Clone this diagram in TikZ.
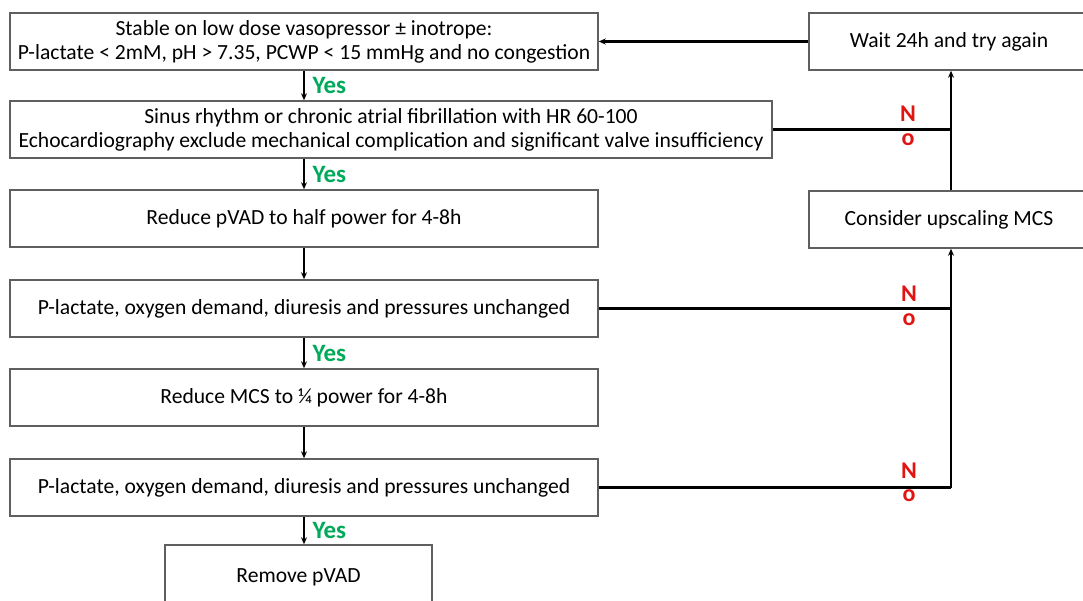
\documentclass[tikz,border=0pt]{standalone}
\usepackage{fontspec}
\setmainfont{Carlito}
\usetikzlibrary{arrows.meta}
\definecolor{boxgray}{RGB}{95,95,95}
\definecolor{yesgreen}{RGB}{0,170,90}
\definecolor{nored}{RGB}{225,20,20}
\tikzset{
  fbox/.style={draw=boxgray, line width=1.5pt, fill=white, align=center, inner sep=0pt,
    minimum height=57pt, font=\fontsize{21.6}{24}\selectfont},
  conn/.style={draw=black, line width=2.4pt},
  arr/.style={conn, -{Stealth[length=7pt,width=6pt]}},
  yes/.style={text=yesgreen, font=\fontsize{25}{27}\selectfont\bfseries},
  nolbl/.style={text=nored, font=\fontsize{24}{26}\selectfont\bfseries},
}
\begin{document}
\begin{tikzpicture}[x=1pt,y=-1pt]
\clip (0,0) rectangle (1083,601);
\useasboundingbox (0,0) rectangle (1083,601);
\node[fbox, minimum width=588pt] (b1) at (304,41.5) {Stable on low dose vasopressor ± inotrope:\\P-lactate < 2mM, pH > 7.35, PCWP < 15 mmHg and no congestion};
\node[fbox, minimum width=762pt] (b2) at (391,129.5) {Sinus rhythm or chronic atrial fibrillation with HR 60-100\\Echocardiography exclude mechanical complication and significant valve insufficiency};
\node[fbox, minimum width=588pt] (b3) at (304,218.5) {Reduce pVAD to half power for 4-8h};
\node[fbox, minimum width=588pt] (b4) at (304,308.5) {P-lactate, oxygen demand, diuresis and pressures unchanged};
\node[fbox, minimum width=588pt] (b5) at (304,397.5) {Reduce MCS to ¼ power for 4-8h};
\node[fbox, minimum width=588pt] (b6) at (304,487.5) {P-lactate, oxygen demand, diuresis and pressures unchanged};
\node[fbox, minimum width=267pt, minimum height=64pt] (b7) at (298.5,577) {Remove pVAD};
\node[fbox, minimum width=290pt] (wait) at (954,41.5) {\hspace*{-10pt}Wait 24h and try again};
\node[fbox, minimum width=290pt] (cons) at (954,219.5) {\hspace*{-10pt}Consider upscaling MCS};

\coordinate (j2) at (951,129.5);
\coordinate (j4) at (951,308.5);
\coordinate (j6) at (951,487.5);

\draw[arr] (b1.south -| 304,0) -- (b2.north -| 304,0) node[yes, midway, right=4pt] {Yes};
\draw[arr] (b2.south -| 304,0) -- (b3.north) node[yes, midway, right=4pt] {Yes};
\draw[arr] (b3.south) -- (b4.north);
\draw[arr] (b4.south) -- (b5.north) node[yes, midway, right=4pt] {Yes};
\draw[arr] (b5.south) -- (b6.north);
\draw[arr] (b6.south -| 304,0) -- (b7.north -| 304,0) node[yes, midway, right=4pt] {Yes};

\draw[arr] (wait.west) -- (b1.east);
\draw[conn] (b2.east) -- (j2);
\draw[arr] (cons.north -| j2) -- (wait.south -| j2);
\draw[conn] (b4.east) -- (j4);
\draw[conn] (b6.east) -- (j6);
\draw[arr] (j6) -- (cons.south -| j6);

\node[nolbl] (n2) at (908,114) {N};
\node[nolbl] (o2) at (908,140) {o};
\node[nolbl] (n4) at (909,294) {N};
\node[nolbl] (o4) at (909,320) {o};
\node[nolbl] (n6) at (909,471) {N};
\node[nolbl] (o6) at (909,496) {o};
\end{tikzpicture}
\end{document}
